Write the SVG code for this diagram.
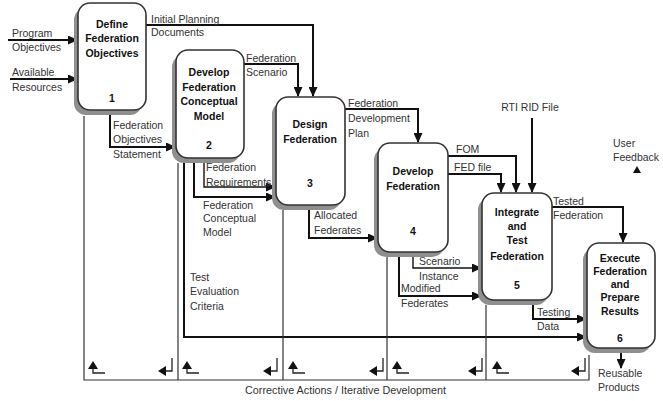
<svg xmlns="http://www.w3.org/2000/svg" width="663" height="401" viewBox="0 0 663 401">
<defs>
<marker id="ah" markerUnits="userSpaceOnUse" markerWidth="10" markerHeight="9" refX="9" refY="4.5" orient="auto">
<path d="M0,0 L10,4.5 L0,9 z" fill="#111"/>
</marker>
<style>
.sh{fill:#8f8f8f;stroke:none}
.bx{fill:#fff;stroke:#333;stroke-width:1.6}
.nt{font-family:"Liberation Sans",Arial,sans-serif;font-size:10.5px;font-weight:bold;fill:#111;text-anchor:middle}
.lb{font-family:"Liberation Sans",Arial,sans-serif;font-size:10.5px;fill:#333}
.c{fill:none;stroke:#111;stroke-width:2;marker-end:url(#ah)}
.cn{fill:none;stroke:#111;stroke-width:1.4;marker-end:url(#ah)}
.fb{fill:none;stroke:#333;stroke-width:1.2}
.sym{fill:none;stroke:#222;stroke-width:1.3}
.tri{fill:#111}
</style>
</defs>
<rect width="663" height="401" fill="#fff"/>

<g id="connectors">
<path class="c" d="M8,40 H77"/>
<path class="c" d="M10,79 H77"/>
<path class="c" d="M146,25 H313 V96"/>
<path class="c" d="M110,111 V147 H175"/>
<path class="c" d="M244,64 H298 V96"/>
<path class="cn" d="M204,158 V187 H275"/>
<path class="c" d="M194,158 V197 H275"/>
<path class="c" d="M184,158 V337 H586"/>
<path class="c" d="M345,109 H418 V142"/>
<path class="c" d="M309,206 V238 H377"/>
<path class="c" d="M448,156 H516 V192"/>
<path class="c" d="M448,174 H501 V192"/>
<path class="c" d="M532,118 V192"/>
<path class="cn" d="M413,253 V268 H481"/>
<path class="c" d="M399,253 V296 H481"/>
<path class="c" d="M552,207 H623 V242"/>
<path class="c" d="M533,301 V319 H586"/>
<path class="c" d="M621,349 V368"/>
<path class="fb" d="M84,116 V380 H589 V355"/>
<path class="fb" d="M178,163 V380"/>
<path class="fb" d="M283,210 V380"/>
<path class="fb" d="M387,257 V380"/>
<path class="fb" d="M486,305 V380"/>
</g>

<g id="feedback-symbols">
<g transform="translate(93,0)"><path class="tri" d="M0,361 L5,369 L-5,369 z"/><path class="sym" d="M0,369 V373 H12"/></g>
<g transform="translate(172,0)"><path class="sym" d="M0,358 V371 H-7"/><path class="tri" d="M-14,371 L-6,366 L-6,376 z"/></g>
<g transform="translate(187,0)"><path class="tri" d="M0,361 L5,369 L-5,369 z"/><path class="sym" d="M0,369 V373 H12"/></g>
<g transform="translate(277,0)"><path class="sym" d="M0,358 V371 H-7"/><path class="tri" d="M-14,371 L-6,366 L-6,376 z"/></g>
<g transform="translate(293,0)"><path class="tri" d="M0,361 L5,369 L-5,369 z"/><path class="sym" d="M0,369 V373 H12"/></g>
<g transform="translate(383,0)"><path class="sym" d="M0,358 V371 H-7"/><path class="tri" d="M-14,371 L-6,366 L-6,376 z"/></g>
<g transform="translate(397,0)"><path class="tri" d="M0,361 L5,369 L-5,369 z"/><path class="sym" d="M0,369 V373 H12"/></g>
<g transform="translate(482,0)"><path class="sym" d="M0,358 V371 H-7"/><path class="tri" d="M-14,371 L-6,366 L-6,376 z"/></g>
<g transform="translate(497,0)"><path class="tri" d="M0,361 L5,369 L-5,369 z"/><path class="sym" d="M0,369 V373 H12"/></g>
<g transform="translate(585,0)"><path class="sym" d="M0,358 V371 H-7"/><path class="tri" d="M-14,371 L-6,366 L-6,376 z"/></g>
<path class="tri" d="M637,166 L641,173 L633,173 z"/>
</g>

<g id="node1">
<rect class="sh" x="74" y="8" width="68" height="107" rx="12"/>
<rect class="bx" x="78" y="3" width="68" height="107" rx="12"/>
<text class="nt" x="112" y="28">Define</text>
<text class="nt" x="112" y="42">Federation</text>
<text class="nt" x="112" y="57">Objectives</text>
<text class="nt" x="112" y="102">1</text>
</g>

<g id="node2">
<rect class="sh" x="172" y="55" width="68" height="108" rx="12"/>
<rect class="bx" x="176" y="50" width="68" height="108" rx="12"/>
<text class="nt" x="209" y="76">Develop</text>
<text class="nt" x="209" y="91">Federation</text>
<text class="nt" x="209" y="105">Conceptual</text>
<text class="nt" x="209" y="120">Model</text>
<text class="nt" x="209" y="149">2</text>
</g>

<g id="node3">
<rect class="sh" x="272" y="102" width="69" height="108" rx="12"/>
<rect class="bx" x="276" y="97" width="69" height="108" rx="12"/>
<text class="nt" x="310" y="128">Design</text>
<text class="nt" x="310" y="143">Federation</text>
<text class="nt" x="310" y="187">3</text>
</g>

<g id="node4">
<rect class="sh" x="374" y="148" width="70" height="109" rx="12"/>
<rect class="bx" x="378" y="143" width="70" height="109" rx="12"/>
<text class="nt" x="413" y="175">Develop</text>
<text class="nt" x="413" y="190">Federation</text>
<text class="nt" x="413" y="235">4</text>
</g>

<g id="node5">
<rect class="sh" x="478" y="198" width="70" height="107" rx="12"/>
<rect class="bx" x="482" y="193" width="70" height="107" rx="12"/>
<text class="nt" x="517" y="216">Integrate</text>
<text class="nt" x="517" y="230">and</text>
<text class="nt" x="517" y="244">Test</text>
<text class="nt" x="517" y="260">Federation</text>
<text class="nt" x="517" y="289">5</text>
</g>

<g id="node6">
<rect class="sh" x="583" y="248" width="68" height="105" rx="12"/>
<rect class="bx" x="587" y="243" width="68" height="105" rx="12"/>
<text class="nt" x="620" y="262">Execute</text>
<text class="nt" x="620" y="275">Federation</text>
<text class="nt" x="620" y="288">and</text>
<text class="nt" x="620" y="301">Prepare</text>
<text class="nt" x="620" y="315">Results</text>
<text class="nt" x="620" y="342">6</text>
</g>

<g id="labels">
<text class="lb" x="12" y="37">Program</text>
<text class="lb" x="12" y="51">Objectives</text>
<text class="lb" x="12" y="76">Available</text>
<text class="lb" x="12" y="91">Resources</text>
<text class="lb" x="151" y="23">Initial Planning</text>
<text class="lb" x="151" y="36">Documents</text>
<text class="lb" x="246" y="62">Federation</text>
<text class="lb" x="246" y="76">Scenario</text>
<text class="lb" x="113" y="129">Federation</text>
<text class="lb" x="113" y="143">Objectives</text>
<text class="lb" x="113" y="158">Statement</text>
<text class="lb" x="206" y="171">Federation</text>
<text class="lb" x="206" y="186">Requirements</text>
<text class="lb" x="203" y="209">Federation</text>
<text class="lb" x="203" y="222">Conceptual</text>
<text class="lb" x="203" y="236">Model</text>
<text class="lb" x="190" y="281">Test</text>
<text class="lb" x="190" y="295">Evaluation</text>
<text class="lb" x="190" y="310">Criteria</text>
<text class="lb" x="348" y="107">Federation</text>
<text class="lb" x="348" y="122">Development</text>
<text class="lb" x="348" y="137">Plan</text>
<text class="lb" x="314" y="219">Allocated</text>
<text class="lb" x="314" y="234">Federates</text>
<text class="lb" x="456" y="153">FOM</text>
<text class="lb" x="454" y="171">FED file</text>
<text class="lb" x="530" y="111" text-anchor="middle">RTI RID File</text>
<text class="lb" x="613" y="147">User</text>
<text class="lb" x="613" y="161">Feedback</text>
<text class="lb" x="553" y="205">Tested</text>
<text class="lb" x="553" y="219">Federation</text>
<text class="lb" x="419" y="265">Scenario</text>
<text class="lb" x="419" y="280">Instance</text>
<text class="lb" x="401" y="292">Modified</text>
<text class="lb" x="401" y="307">Federates</text>
<text class="lb" x="537" y="316">Testing</text>
<text class="lb" x="537" y="330">Data</text>
<text class="lb" x="598" y="377">Reusable</text>
<text class="lb" x="598" y="391">Products</text>
<text class="lb" x="245" y="394" style="font-size:10.8px">Corrective Actions / Iterative Development</text>
</g>
</svg>
